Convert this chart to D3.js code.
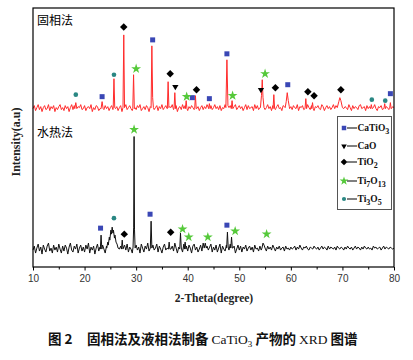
<!DOCTYPE html>
<html><head><meta charset="utf-8">
<script src="https://cdn.jsdelivr.net/npm/d3@7"></script>
<style>
html,body{margin:0;padding:0;background:#fff;}
svg{display:block;}
</style></head>
<body>
<svg id="chart" width="413" height="360"></svg>
<script>
// ---------- DATA ----------
const thetaStart = 10, thetaStep = 0.25;
const xTicks = [10, 20, 30, 40, 50, 60, 70, 80];
const xMinorTicks = [15, 25, 35, 45, 55, 65, 75];
const phases = ["CaTiO3", "CaO", "TiO2", "Ti7O13", "Ti3O5"];
const panelLabels = ["固相法", "水热法"];
const traceOffsets = [150, 10];

// baseline noise of the solid-phase (red) pattern, one reading per 0.25 deg from 10 to 80
const redNoise = [
9,12,7,10,13,8,11,6,10,12,8,9,13,7,11,9,12,6,10,8,
11,13,8,10,7,12,9,11,6,10,13,8,12,9,7,11,10,13,8,9,
12,7,10,11,9,13,6,10,8,12,11,7,9,13,10,8,12,9,11,7,
10,12,8,13,9,11,7,10,12,6,9,11,13,8,10,12,9,7,11,10,
8,12,10,13,7,9,11,8,12,10,6,11,9,13,8,10,12,7,11,9,
13,8,10,12,9,7,11,10,13,8,9,12,6,10,11,8,13,9,12,10,
7,11,9,12,10,8,13,9,11,7,10,12,8,11,9,13,10,7,12,8,
10,13,9,11,8,12,7,10,9,13,11,8,10,12,6,9,11,13,8,10,
12,9,11,7,10,13,8,12,9,10,11,7,13,9,12,8,10,11,9,12,
8,10,13,9,11,7,12,10,8,11,13,9,10,7,12,11,8,10,13,9,
11,8,12,10,9,13,7,11,10,12,8,9,11,13,10,8,12,9,7,11,
10,12,9,8,13,11,7,10,12,9,11,8,10,13,9,12,7,11,10,8,
12,9,11,10,8,13,10,7,12,9,11,10,8,12,13,9,10,11,7,12,
9,11,8,12,10,13,9,7,11,10,12,8,9,13,11,10,8,12,9,11,
10];

// baseline noise of the hydrothermal (black) pattern
const blackNoise = [
7,11,4,9,13,6,10,3,12,8,5,11,14,6,9,4,12,7,10,5,
13,8,4,11,6,12,9,3,10,14,7,5,11,8,13,4,9,12,6,10,
5,12,8,14,4,10,7,11,3,9,13,6,10,5,12,8,4,11,7,13,
9,4,12,6,10,14,5,8,11,3,9,12,7,13,5,10,8,4,11,6,
12,7,10,4,13,9,5,11,8,14,6,10,3,12,7,9,13,5,11,8,
4,10,13,7,9,5,12,8,11,6,14,9,4,10,7,12,5,13,8,11,
6,12,9,4,11,13,7,10,5,8,12,6,14,9,4,11,7,10,13,5,
10,7,12,5,9,13,4,11,8,6,12,10,7,13,5,9,11,4,8,12,
7,11,5,10,8,12,6,9,11,7,10,5,12,8,9,6,11,7,10,8,
9,6,11,8,10,7,12,9,6,10,8,11,7,9,10,6,11,8,9,7,
10,8,9,11,7,10,8,12,9,7,10,9,11,8,7,10,9,8,11,9,
8,10,7,9,11,8,10,9,7,11,8,10,9,8,10,7,11,9,8,10,
9,7,10,8,11,9,8,10,7,9,11,8,10,9,7,10,8,11,9,8,
10,8,9,7,11,9,10,8,9,10,7,9,11,8,10,9,8,10,9,8,
9];

// diffraction peaks: [2theta, intensity] points
const redPeaks = [
  [[18.1,9],[18.3,15],[18.5,9]],
  [[23.2,9],[23.4,16],[23.6,9]],
  [[25.55,9],[25.7,39],[25.85,10]],
  [[27.45,10],[27.6,83],[27.75,10]],
  [[29.35,9],[29.5,43],[29.65,9]],
  [[32.9,10],[33.05,72],[33.2,20],[33.35,10]],
  [[36.05,9],[36.2,36],[36.35,10]],
  [[37.35,9],[37.5,25],[37.65,9]],
  [[39.55,9],[39.7,17],[39.85,9]],
  [[41.35,9],[41.5,22],[41.65,9]],
  [[44.05,9],[44.2,14],[44.35,9]],
  [[47.4,10],[47.6,58],[47.8,12],[48.0,10]],
  [[48.45,9],[48.6,17],[48.75,9]],
  [[54.1,10],[54.3,22],[54.45,38],[54.6,20],[54.8,10]],
  [[56.55,9],[56.7,23],[56.85,9]],
  [[58.9,10],[59.1,16],[59.3,25],[59.5,17],[59.7,11]],
  [[62.75,9],[62.9,19],[63.05,9]],
  [[64.05,9],[64.2,15],[64.35,9]],
  [[69.0,10],[69.3,16],[69.5,20],[69.7,17],[70.0,10]],
  [[75.45,9],[75.6,13],[75.75,9]],
  [[78.05,9],[78.2,14],[78.35,9]],
  [[79.15,9],[79.3,15],[79.45,9]]
];
const blackPeaks = [
  [[23.05,8],[23.2,22],[23.35,8]],
  [[24.3,9],[24.5,15],[24.6,12],[24.8,20],[24.9,17],[25.1,27],[25.2,23],[25.35,30],[25.5,24],[25.6,27],[25.8,19],[25.9,22],[26.1,15],[26.3,13],[26.5,9]],
  [[27.15,8],[27.3,17],[27.45,8]],
  [[29.4,10],[29.52,30],[29.6,121],[29.68,28],[29.8,9]],
  [[32.75,9],[32.9,36],[33.05,9]],
  [[36.25,8],[36.4,15],[36.55,8]],
  [[38.45,8],[38.6,24],[38.75,9]],
  [[39.35,8],[39.5,15],[39.65,8]],
  [[43.2,9],[43.4,14],[43.6,9]],
  [[47.55,9],[47.7,25],[47.85,10]],
  [[48.35,9],[48.5,20],[48.65,9]],
  [[54.4,9],[54.6,14],[54.8,12],[55.0,9]]
];

// phase markers: [2theta, marker height]
const redMarkers = {
  CaTiO3: [[23.4,21],[33.2,78],[40.9,20],[44.2,19],[47.6,64],[59.4,33],[79.3,24]],
  CaO:    [[37.6,31],[54.2,28]],
  TiO2:   [[27.6,91],[36.6,44],[41.7,28],[57.0,30],[63.3,26],[64.5,22],[69.7,28]],
  Ti7O13: [[30.0,49],[39.8,21],[48.7,22],[55.0,44]],
  Ti3O5:  [[18.3,23],[25.7,43],[75.7,18],[78.3,17]]
};
const blackMarkers = {
  CaTiO3: [[23.1,29],[32.7,43],[47.6,32]],
  CaO:    [],
  TiO2:   [[27.7,23],[36.7,25]],
  Ti7O13: [[29.6,128],[39.0,28],[40.2,20],[43.9,20],[49.2,26],[55.3,23]],
  Ti3O5:  [[25.7,39]]
};

// ---------- LAYOUT ----------
const svg = d3.select("#chart");
const L = 33, R = 394, T = 8, B = 267;
const x = d3.scaleLinear().domain([10, 80]).range([L, R]);
const y = d3.scaleLinear().domain([0, 260]).range([B, T]);

const phaseStyle = {
  CaTiO3: {type: d3.symbolSquare, size: 25, fill: "#3a47b5", rot: 0},
  CaO:    {type: d3.symbolTriangle, size: 17, fill: "#000", rot: 180},
  TiO2:   {type: d3.symbolSquare, size: 28, fill: "#000", rot: 45},
  Ti7O13: {type: d3.symbolStar, size: 30, fill: "#55c93a", rot: 0},
  Ti3O5:  {type: d3.symbolCircle, size: 17, fill: "#2a8783", rot: 0}
};

function buildTrace(noise, peaks) {
  const base = noise.map((v, i) => [thetaStart + i * thetaStep, v]);
  const kept = base.filter(p => !peaks.some(pk => p[0] >= pk[0][0] && p[0] <= pk[pk.length - 1][0]));
  return kept.concat(...peaks).sort((a, b) => a[0] - b[0]);
}

const traces = [
  {data: buildTrace(redNoise, redPeaks), color: "#ff2b2b", off: traceOffsets[0], markers: redMarkers},
  {data: buildTrace(blackNoise, blackPeaks), color: "#111", off: traceOffsets[1], markers: blackMarkers}
];

traces.forEach(tr => {
  const line = d3.line().x(d => x(d[0])).y(d => y(d[1] + tr.off));
  svg.append("path").attr("d", line(tr.data)).attr("fill", "none")
    .attr("stroke", tr.color).attr("stroke-width", 1).attr("stroke-linejoin", "miter");
});

traces.forEach(tr => {
  phases.forEach(ph => {
    const st = phaseStyle[ph];
    svg.append("g").selectAll("path").data(tr.markers[ph]).join("path")
      .attr("d", d3.symbol().type(st.type).size(st.size))
      .attr("transform", d => `translate(${x(d[0])},${y(d[1] + tr.off)}) rotate(${st.rot})`)
      .attr("fill", st.fill);
  });
});

// frame
svg.append("rect").attr("x", L).attr("y", T).attr("width", R - L).attr("height", B - T)
  .attr("fill", "none").attr("stroke", "#000").attr("stroke-width", 1.2);

// x axis
const axis = svg.append("g").attr("transform", `translate(0,${B})`)
  .call(d3.axisBottom(x).tickValues(xTicks).tickSize(3.5).tickPadding(4).tickFormat(d3.format("d")));
axis.select(".domain").remove();
axis.selectAll("line").attr("stroke", "#000").attr("stroke-width", 1);
axis.selectAll("text").attr("font-family", "Liberation Sans, Arial, sans-serif").attr("font-size", 10).attr("fill", "#333");
svg.append("g").attr("transform", `translate(0,${B})`)
  .call(d3.axisBottom(x).tickValues(xMinorTicks).tickSize(2.5).tickFormat(""))
  .call(g => g.select(".domain").remove())
  .selectAll("line").attr("stroke", "#000");

// titles
svg.append("text").attr("x", (L + R) / 2 + 0.5).attr("y", 302).attr("text-anchor", "middle")
  .attr("font-family", "Liberation Serif, Times New Roman, serif").attr("font-weight", "bold")
  .attr("font-size", 11.5).attr("fill", "#222").text("2-Theta(degree)");
svg.append("text").attr("transform", "translate(20,142) rotate(-90)").attr("text-anchor", "middle")
  .attr("font-family", "Liberation Serif, Times New Roman, serif").attr("font-weight", "bold")
  .attr("font-size", 12).attr("fill", "#222").text("Intensity(a.u)");

// panel labels
svg.append("text").attr("x", 37).attr("y", 25).attr("font-family", "Noto Sans CJK SC").attr("font-size", 12)
  .text(panelLabels[0]);
svg.append("text").attr("x", 37).attr("y", 136.5).attr("font-family", "Noto Sans CJK SC").attr("font-size", 12)
  .text(panelLabels[1]);

// legend
const lg = svg.append("g");
lg.append("rect").attr("x", 337.5).attr("y", 116.5).attr("width", 54).attr("height", 93)
  .attr("fill", "#fff").attr("stroke", "#555").attr("stroke-width", 1);
const legendY = [128, 146, 162, 181, 199];
const legendSub = {CaTiO3: ["CaTiO", "3"], CaO: ["CaO"], TiO2: ["TiO", "2"], Ti7O13: ["Ti", "7", "O", "13"], Ti3O5: ["Ti", "3", "O", "5"]};
phases.forEach((ph, i) => {
  const st = phaseStyle[ph];
  const yy = legendY[i];
  lg.append("path").attr("d", d3.symbol().type(st.type).size(st.size * 0.8))
    .attr("transform", `translate(344,${yy}) rotate(${st.rot})`).attr("fill", st.fill);
  lg.append("line").attr("x1", 347).attr("x2", 357).attr("y1", yy).attr("y2", yy).attr("stroke", "#000").attr("stroke-width", 1);
  const t = lg.append("text").attr("x", 357.5).attr("y", yy + 3.3)
    .attr("font-family", "Liberation Serif, Times New Roman, serif").attr("font-weight", "bold").attr("font-size", 9.5).attr("fill", "#111");
  legendSub[ph].forEach((p, j) => {
    const sub = j % 2 === 1;
    t.append("tspan").attr("dy", sub ? 3 : (j > 0 ? -3 : 0)).attr("font-size", sub ? 8 : 9.5).text(p);
  });
});

// caption
const serif = "Liberation Serif, Times New Roman, serif";
const cap = svg.append("text").attr("x", 48).attr("y", 344).attr("font-size", 13.5)
  .attr("font-family", "Noto Sans CJK SC").attr("fill", "#111");
cap.append("tspan").attr("font-weight", "bold").text("图 2");
cap.append("tspan").attr("x", 87).attr("font-weight", "bold").text("固相法及液相法制备 ");
cap.append("tspan").attr("font-family", serif).text("CaTiO");
cap.append("tspan").attr("font-family", serif).attr("font-size", 9).attr("dy", 3).text("3");
cap.append("tspan").attr("dy", -3).attr("font-weight", "bold").text(" 产物的 ");
cap.append("tspan").attr("font-family", serif).text("XRD");
cap.append("tspan").attr("font-weight", "bold").text(" 图谱");
</script>
</body></html>
